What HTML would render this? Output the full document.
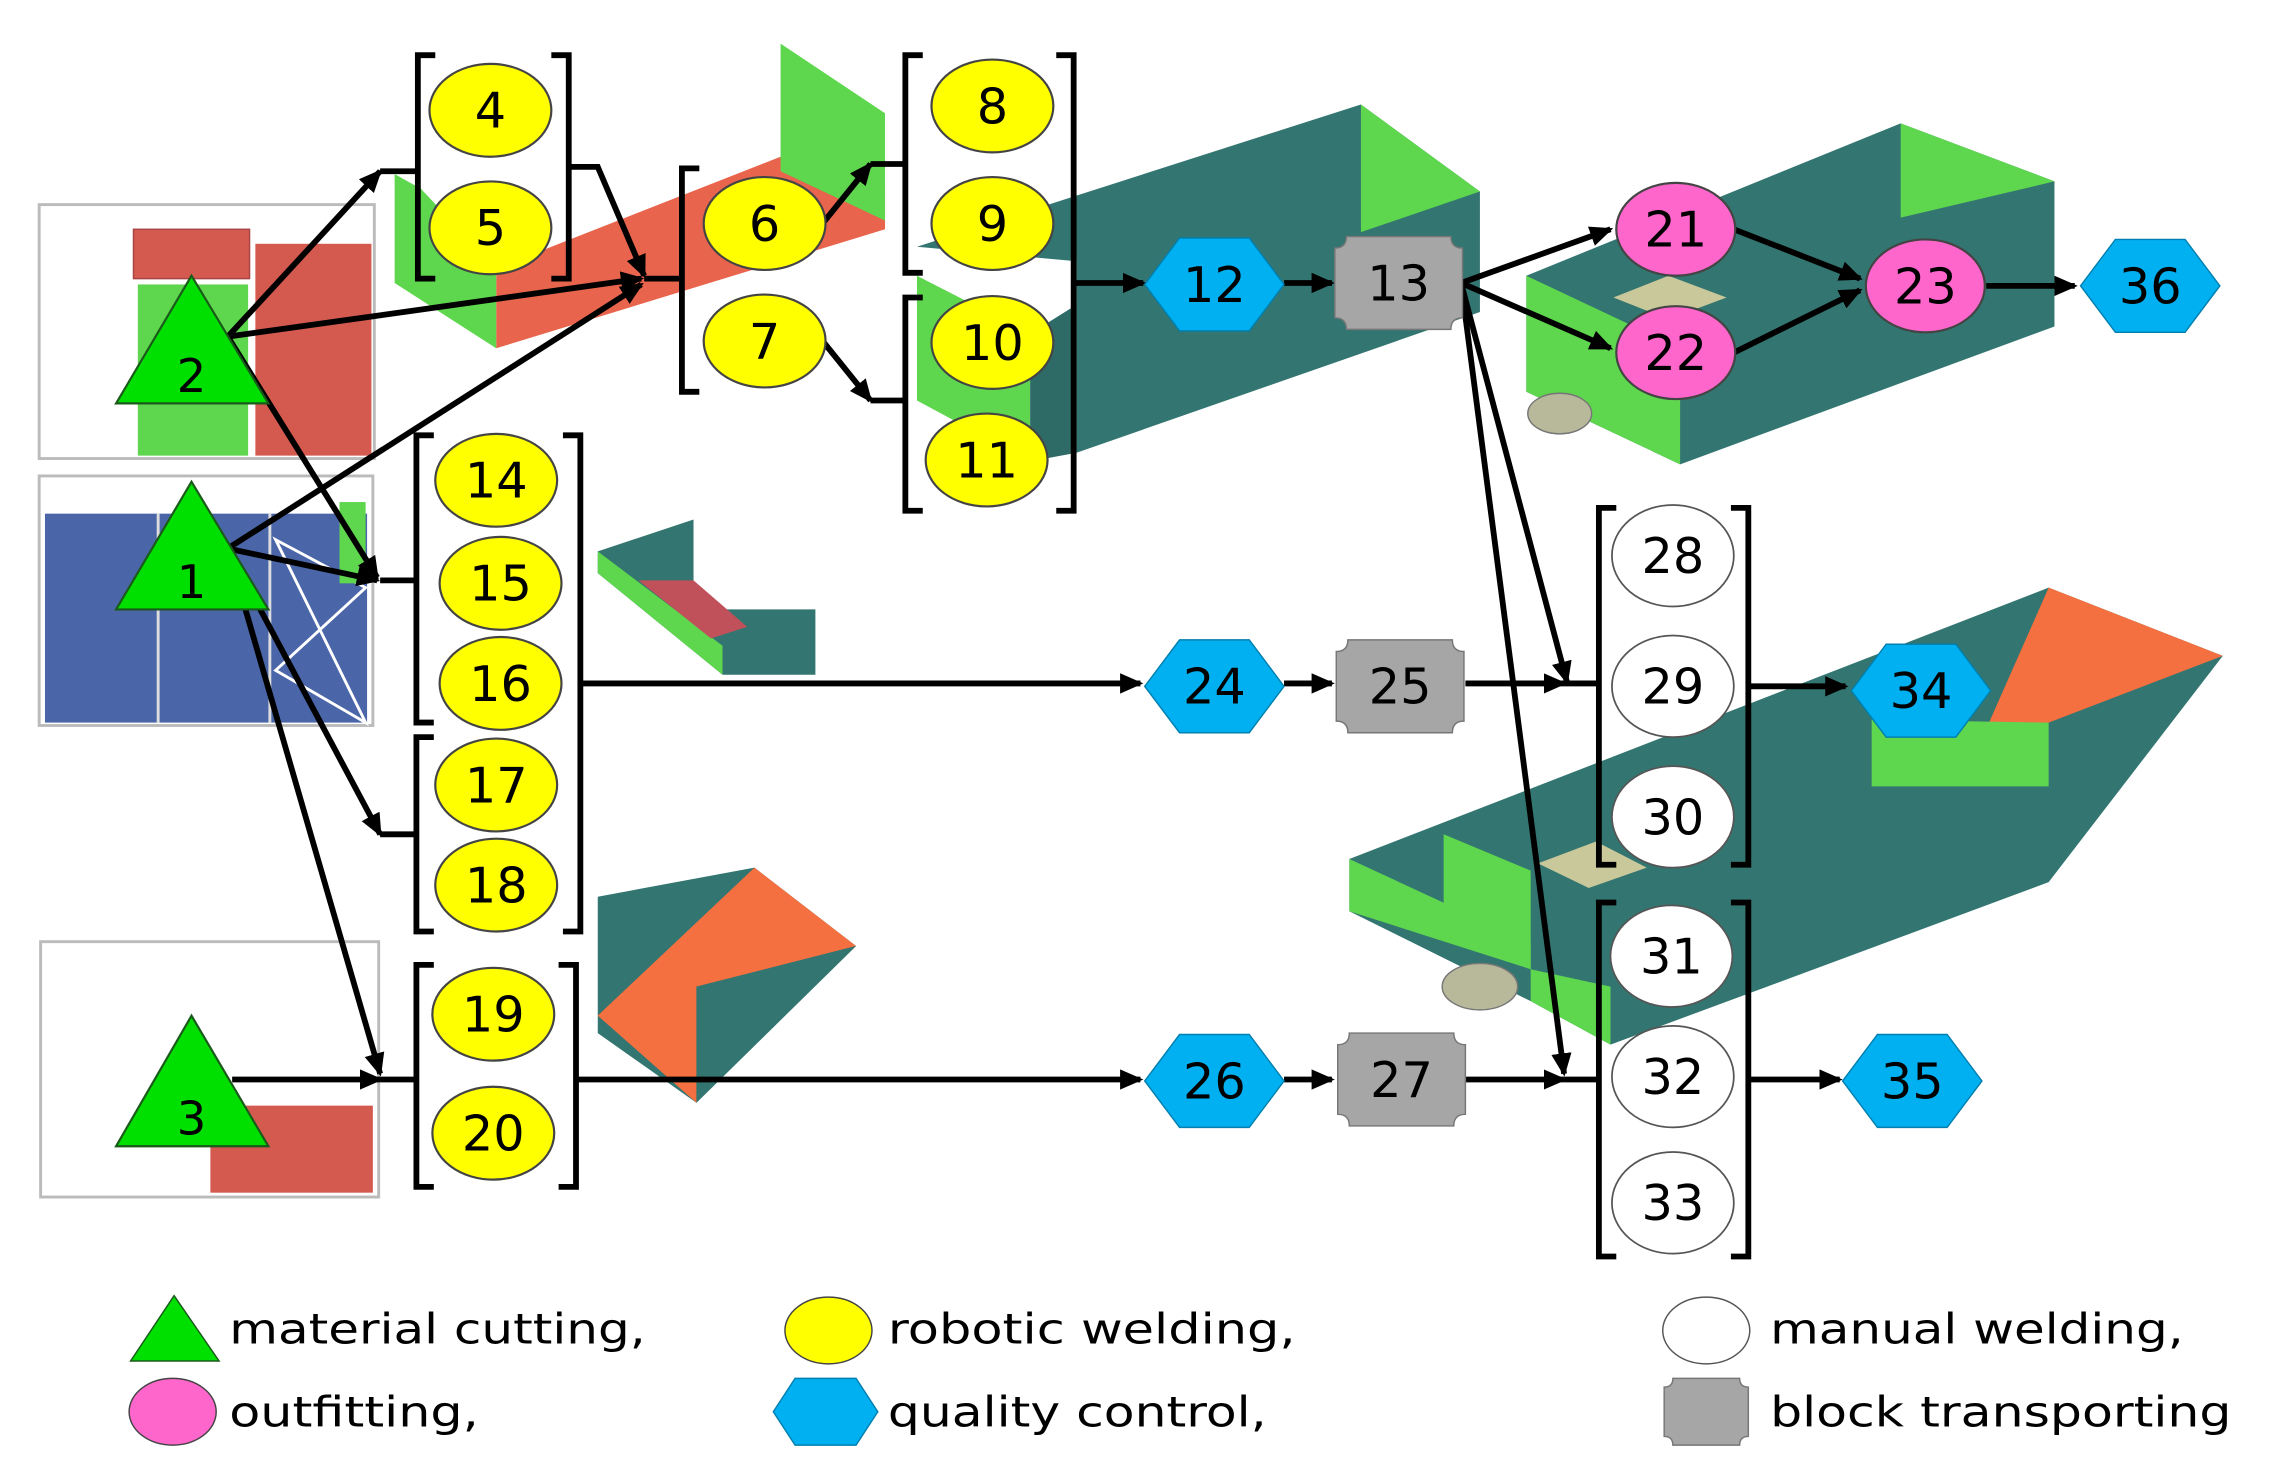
<!DOCTYPE html>
<html><head><meta charset="utf-8"><style>
html,body{margin:0;padding:0;background:#fff;}
svg{display:block;}
text{font-family:"DejaVu Sans","Liberation Sans",sans-serif;}
</style></head><body>
<svg width="2275" height="1480" viewBox="0 0 1568 1020" xmlns="http://www.w3.org/2000/svg">
<defs>
<marker id="a" markerWidth="16" markerHeight="16" refX="14" refY="8" orient="auto" markerUnits="userSpaceOnUse" viewBox="0 0 16 16">
<path d="M0,1 L16,8 L0,15 z" fill="#000"/></marker>
</defs>
<rect width="1568" height="1020" fill="#fff"/>

<!-- left boxes -->
<rect x="27" y="141" width="231" height="175" fill="#fff" stroke="#bbb" stroke-width="2"/>
<rect x="92" y="158" width="80" height="34" fill="#d45a50" stroke="#a44"/>
<rect x="95" y="196" width="76" height="118" fill="#5ed64e"/>
<rect x="176" y="168" width="80" height="146" fill="#d45a50"/>
<rect x="27" y="328" width="230" height="172" fill="#fff" stroke="#bbb" stroke-width="2"/>
<rect x="31" y="354" width="222" height="144" fill="#4a66a8"/>
<line x1="109" y1="354" x2="109" y2="498" stroke="#ddd" stroke-width="2"/>
<line x1="186" y1="354" x2="186" y2="498" stroke="#ddd" stroke-width="2"/>
<polygon points="190,372 252,405 190,462 252,498" fill="none" stroke="#fff" stroke-width="2"/>
<rect x="234" y="346" width="18" height="56" fill="#5ed64e"/>
<rect x="28" y="649" width="233" height="176" fill="#fff" stroke="#bbb" stroke-width="2"/>
<rect x="145" y="762" width="112" height="60" fill="#d45a50"/>

<!-- 3D parts -->
<polygon points="342,185 538,108 610,130 610,158 342,240" fill="#e8644c"/>
<polygon points="272,120 290,130 342,185 342,240 272,195" fill="#5ed64e"/>
<polygon points="538,30 610,78 610,152 538,118" fill="#5ed64e"/>
<!-- long teal box -->
<polygon points="632,170 938,72 1020,132 1020,215 742,312 742,180" fill="#337570"/>
<polygon points="938,72 1020,132 938,160" fill="#5ed64e"/>
<polygon points="632,190 710,230 710,318 632,276" fill="#5ed64e"/>
<polygon points="710,230 742,210 742,312 710,318" fill="#2f6b66"/>
<!-- 21-23 box -->
<polygon points="1052,190 1310,85 1416,125 1416,225 1158,320 1052,270" fill="#337570"/>
<polygon points="1310,85 1416,125 1310,150" fill="#5ed64e"/>
<polygon points="1052,190 1158,240 1158,320 1052,270" fill="#5ed64e"/>
<polygon points="1112,205 1150,190 1190,205 1150,220" fill="#c8c89a"/>
<ellipse cx="1075" cy="285" rx="22" ry="14" fill="#b8b89a" stroke="#777"/>
<!-- 16 part -->
<polygon points="412,380 478,358 478,410 500,420 562,420 562,465 498,465 412,395" fill="#337570"/>
<polygon points="412,380 498,445 498,465 412,395" fill="#5ed64e"/>
<polygon points="440,400 478,400 515,432 490,440" fill="#c0505a"/>
<!-- 20 part -->
<polygon points="412,618 520,598 590,652 480,760 412,712" fill="#337570"/>
<polygon points="412,700 520,598 590,652 480,680 480,760" fill="#f47040"/>
<polygon points="480,680 590,652 480,760" fill="#337570"/>
<!-- big boat -->
<polygon points="930,592 1412,405 1532,452 1412,608 1110,720 1055,690 930,628" fill="#337570"/>
<polygon points="1370,500 1412,405 1532,452 1412,498" fill="#f47040"/>
<polygon points="1290,496 1412,498 1412,542 1290,542" fill="#5ed64e"/>
<polygon points="930,592 1055,650 1055,668 930,628" fill="#5ed64e"/>
<polygon points="995,575 1055,600 1055,668 995,640" fill="#5ed64e"/>
<polygon points="1060,595 1100,580 1135,598 1095,612" fill="#c8c89a"/>
<polygon points="1055,668 1110,680 1110,720 1055,690" fill="#5ed64e"/>
<ellipse cx="1020" cy="680" rx="26" ry="16" fill="#b8b89a" stroke="#777"/>

<!-- brackets -->
<g fill="none" stroke="#000" stroke-width="4">
<path d="M300,38 H288 V192 H300 M380,38 H392 V192 H380"/>
<path d="M482,116 H470 V270 H482"/>
<path d="M636,38 H624 V188 H636 M636,205 H624 V352 H636 M728,38 H740 V352 H728"/>
<path d="M299,300 H287 V498 H299 M299,508 H287 V642 H299 M388,300 H400 V642 H388"/>
<path d="M299,665 H287 V818 H299 M385,665 H397 V818 H385"/>
<path d="M1114,350 H1102 V596 H1114 M1193,350 H1205 V596 H1193"/>
<path d="M1114,622 H1102 V866 H1114 M1193,622 H1205 V866 H1193"/>
</g>

<!-- arrows -->
<g stroke="#000" stroke-width="4" fill="none" marker-end="url(#a)">
<line x1="157" y1="232" x2="262" y2="118"/>
<line x1="157" y1="232" x2="442" y2="192"/>
<line x1="157" y1="232" x2="260" y2="398"/>
<line x1="157" y1="378" x2="442" y2="196"/>
<line x1="157" y1="378" x2="260" y2="400"/>
<line x1="157" y1="378" x2="262" y2="575"/>
<line x1="157" y1="378" x2="262" y2="740"/>
<path d="M392,115 H412 L444,190"/>
<line x1="567" y1="154" x2="600" y2="113"/>
<line x1="567" y1="235" x2="600" y2="276"/>
<line x1="740" y1="195" x2="788" y2="195"/>
<line x1="885" y1="195" x2="918" y2="195"/>
<line x1="1007" y1="195" x2="1110" y2="158"/>
<line x1="1007" y1="195" x2="1110" y2="240"/>
<line x1="1007" y1="195" x2="1080" y2="470"/>
<line x1="1007" y1="195" x2="1078" y2="740"/>
<line x1="1195" y1="158" x2="1282" y2="192"/>
<line x1="1195" y1="243" x2="1282" y2="200"/>
<line x1="1369" y1="197" x2="1430" y2="197"/>
<line x1="400" y1="471" x2="786" y2="471"/>
<line x1="885" y1="471" x2="918" y2="471"/>
<line x1="1010" y1="471" x2="1078" y2="471"/>
<line x1="1205" y1="473" x2="1272" y2="473"/>
<line x1="160" y1="744" x2="262" y2="744"/>
<line x1="397" y1="744" x2="786" y2="744"/>
<line x1="885" y1="744" x2="918" y2="744"/>
<line x1="1010" y1="744" x2="1078" y2="744"/>
<line x1="1205" y1="744" x2="1268" y2="744"/>
</g>
<g stroke="#000" stroke-width="4" fill="none">
<path d="M262,118 H288"/><path d="M262,400 H287"/><path d="M262,575 H287"/><path d="M262,744 H287"/>
<path d="M444,192 H470"/><path d="M600,113 H624"/><path d="M600,276 H624"/>
<path d="M1078,471 H1102"/><path d="M1078,744 H1102"/>
</g>

<!-- triangles -->
<g fill="#00e000" stroke="#1a5a1a" stroke-width="1.5">
<polygon points="132,190 80,278 185,278"/>
<polygon points="132,332 80,420 185,420"/>
<polygon points="132,700 80,790 185,790"/>
</g>
<g font-size="32" text-anchor="middle">
<text x="132" y="270">2</text><text x="132" y="412">1</text><text x="132" y="782">3</text>
</g>

<!-- yellow -->
<g fill="#ffff00" stroke="#444" stroke-width="1.5">
<ellipse cx="338" cy="76" rx="42" ry="32"/><ellipse cx="338" cy="157" rx="42" ry="32"/>
<ellipse cx="527" cy="154" rx="42" ry="32"/><ellipse cx="527" cy="235" rx="42" ry="32"/>
<ellipse cx="684" cy="73" rx="42" ry="32"/><ellipse cx="684" cy="154" rx="42" ry="32"/>
<ellipse cx="684" cy="236" rx="42" ry="32"/><ellipse cx="680" cy="317" rx="42" ry="32"/>
<ellipse cx="342" cy="331" rx="42" ry="32"/><ellipse cx="345" cy="402" rx="42" ry="32"/>
<ellipse cx="345" cy="471" rx="42" ry="32"/><ellipse cx="342" cy="541" rx="42" ry="32"/>
<ellipse cx="342" cy="610" rx="42" ry="32"/><ellipse cx="340" cy="699" rx="42" ry="32"/>
<ellipse cx="340" cy="781" rx="42" ry="32"/>
</g>
<!-- pink -->
<g fill="#ff66cc" stroke="#444" stroke-width="1.5">
<ellipse cx="1155" cy="158" rx="41" ry="32"/><ellipse cx="1155" cy="243" rx="41" ry="32"/><ellipse cx="1327" cy="197" rx="41" ry="32"/>
</g>
<!-- white -->
<g fill="#fff" stroke="#555" stroke-width="1.2">
<ellipse cx="1153" cy="383" rx="42" ry="35"/><ellipse cx="1153" cy="473" rx="42" ry="35"/>
<ellipse cx="1153" cy="563" rx="42" ry="35"/><ellipse cx="1152" cy="659" rx="42" ry="35"/>
<ellipse cx="1153" cy="742" rx="42" ry="35"/><ellipse cx="1153" cy="829" rx="42" ry="35"/>
</g>
<!-- hexagons -->
<g fill="#00b0f0" stroke="#0080b0" stroke-width="1">
<polygon points="789,196 813,164 861,164 885,196 861,228 813,228"/>
<polygon points="789,473 813,441 861,441 885,473 861,505 813,505"/>
<polygon points="789,745 813,713 861,713 885,745 861,777 813,777"/>
<polygon points="1434,197 1458,165 1506,165 1530,197 1506,229 1458,229"/>
<polygon points="1276,476 1300,444 1348,444 1372,476 1348,508 1300,508"/>
<polygon points="1270,745 1294,713 1342,713 1366,745 1342,777 1294,777"/>
</g>
<!-- gray -->
<g fill="#a6a6a6" stroke="#777" stroke-width="1">
<path d="M928,163 H1000 Q1000,171 1008,171 V219 Q1000,219 1000,227 H928 Q928,219 920,219 V171 Q928,171 928,163 z"/>
<path d="M929,441 H1001 Q1001,449 1009,449 V497 Q1001,497 1001,505 H929 Q929,497 921,497 V449 Q929,449 929,441 z"/>
<path d="M930,712 H1002 Q1002,720 1010,720 V768 Q1002,768 1002,776 H930 Q930,768 922,768 V720 Q930,720 930,712 z"/>
</g>
<g font-size="34" text-anchor="middle" fill="#000">
<text x="338" y="88">4</text><text x="338" y="169">5</text><text x="527" y="166">6</text><text x="527" y="247">7</text>
<text x="684" y="85">8</text><text x="684" y="166">9</text><text x="684" y="248">10</text><text x="680" y="329">11</text>
<text x="342" y="343">14</text><text x="345" y="414">15</text><text x="345" y="483">16</text><text x="342" y="553">17</text>
<text x="342" y="622">18</text><text x="340" y="711">19</text><text x="340" y="793">20</text>
<text x="1155" y="170">21</text><text x="1155" y="255">22</text><text x="1327" y="209">23</text>
<text x="1153" y="395">28</text><text x="1153" y="485">29</text><text x="1153" y="575">30</text>
<text x="1152" y="671">31</text><text x="1153" y="754">32</text><text x="1153" y="841">33</text>
<text x="837" y="208">12</text><text x="837" y="485">24</text><text x="837" y="757">26</text>
<text x="1482" y="209">36</text><text x="1324" y="488">34</text><text x="1318" y="757">35</text>
<text x="964" y="207">13</text><text x="965" y="485">25</text><text x="966" y="756">27</text>
</g>

<!-- legend -->
<polygon points="120,893 90,938 151,938" fill="#00e000" stroke="#1a5a1a"/>
<ellipse cx="571" cy="917" rx="30" ry="23" fill="#ffff00" stroke="#444"/>
<ellipse cx="1176" cy="917" rx="30" ry="23" fill="#fff" stroke="#555"/>
<ellipse cx="119" cy="973" rx="30" ry="23" fill="#ff66cc" stroke="#444"/>
<polygon points="533,973 548,950 590,950 605,973 590,996 548,996" fill="#00b0f0" stroke="#0080b0"/>
<path d="M1153,950 H1199 Q1199,956 1205,956 V990 Q1199,990 1199,996 H1153 Q1153,990 1147,990 V956 Q1153,956 1153,950 z" fill="#a6a6a6" stroke="#777"/>
<g font-size="29" fill="#000">
<text x="158" y="926" textLength="287" lengthAdjust="spacingAndGlyphs">material cutting,</text>
<text x="612" y="926" textLength="281" lengthAdjust="spacingAndGlyphs">robotic welding,</text>
<text x="1220" y="926" textLength="285" lengthAdjust="spacingAndGlyphs">manual welding,</text>
<text x="158" y="983" textLength="172" lengthAdjust="spacingAndGlyphs">outfitting,</text>
<text x="612" y="983" textLength="261" lengthAdjust="spacingAndGlyphs">quality control,</text>
<text x="1220" y="983" textLength="318" lengthAdjust="spacingAndGlyphs">block transporting</text>
</g>
</svg>
</body></html>
